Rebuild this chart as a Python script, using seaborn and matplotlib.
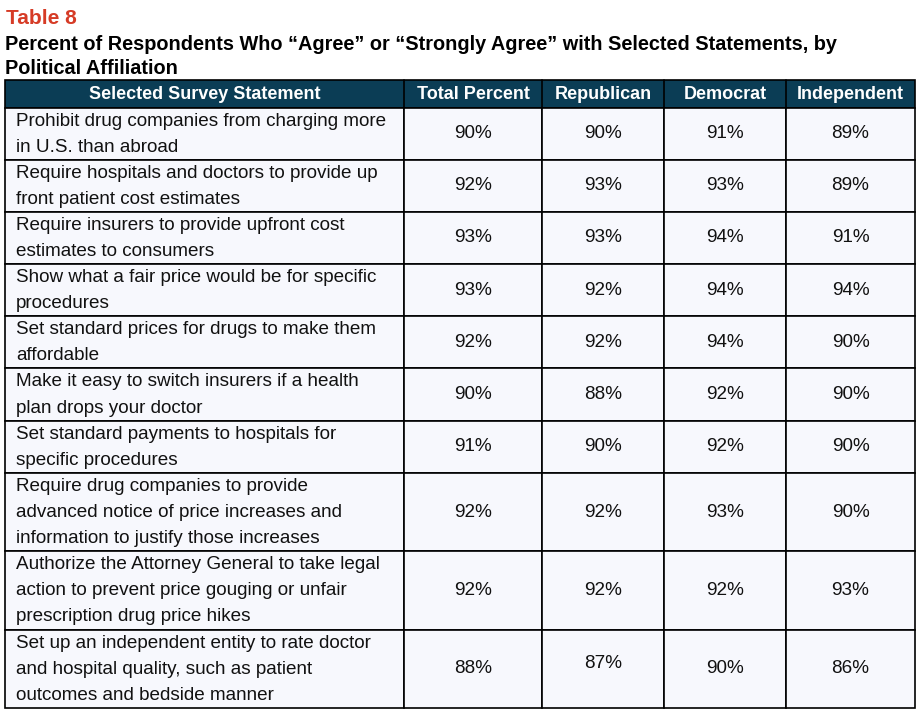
import matplotlib
matplotlib.use("Agg")
import matplotlib.pyplot as plt
from matplotlib.patches import Rectangle
import seaborn as sns

# ---------------- data ----------------
table_label = "Table 8"
title_lines = [
    "Percent of Respondents Who \u201cAgree\u201d or \u201cStrongly Agree\u201d with Selected Statements, by",
    "Political Affiliation",
]
columns = ["Selected Survey Statement", "Total Percent", "Republican", "Democrat", "Independent"]
statements = [
    ["Prohibit drug companies from charging more", "in U.S. than abroad"],
    ["Require hospitals and doctors to provide up", "front patient cost estimates"],
    ["Require insurers to provide upfront cost", "estimates to consumers"],
    ["Show what a fair price would be for specific", "procedures"],
    ["Set standard prices for drugs to make them", "affordable"],
    ["Make it easy to switch insurers if a health", "plan drops your doctor"],
    ["Set standard payments to hospitals for", "specific procedures"],
    ["Require drug companies to provide", "advanced notice of price increases and",
     "information to justify those increases"],
    ["Authorize the Attorney General to take legal", "action to prevent price gouging or unfair",
     "prescription drug price hikes"],
    ["Set up an independent entity to rate doctor", "and hospital quality, such as patient",
     "outcomes and bedside manner"],
]
total_pct = [90, 92, 93, 93, 92, 90, 91, 92, 92, 88]
republican = [90, 93, 93, 92, 92, 88, 90, 92, 92, 87]
democrat = [91, 93, 94, 94, 94, 92, 92, 93, 92, 90]
independent = [89, 89, 91, 94, 90, 90, 90, 90, 93, 86]

# ---------------- style ----------------
sns.set_theme(style="white")
FONT = ["Liberation Sans", "DejaVu Sans"]
plt.rcParams["font.family"] = FONT

HEADER_BG = "#0B3D55"
CELL_BG = "#F7F8FD"
RED = "#D63B26"

W, H = 922, 712
fig = plt.figure(figsize=(W / 100, H / 100), dpi=100)
ax = fig.add_axes([0, 0, 1, 1])
ax.set_xlim(0, W)
ax.set_ylim(H, 0)
ax.axis("off")

# layout (pixel-like axes units)
col_edges = [5, 404, 542, 664, 786, 915]
table_top = 80
header_h = 27.5
line_h = 26.1

# titles
ax.text(6, 18, table_label, color=RED, fontsize=15, fontweight="bold",
        va="center", ha="left")
for i, t in enumerate(title_lines):
    ax.text(5, 45 + 23 * i, t, color="black", fontsize=14.3, fontweight="bold",
            va="center", ha="left")

# header
ax.add_patch(Rectangle((col_edges[0], table_top), col_edges[-1] - col_edges[0], header_h,
                       facecolor=HEADER_BG, edgecolor="black", lw=1.2, zorder=1))
for j, name in enumerate(columns):
    cx = (col_edges[j] + col_edges[j + 1]) / 2
    ax.text(cx, table_top + header_h / 2 + 0.5, name, color="white", fontsize=13.0,
            fontweight="bold", ha="center", va="center", zorder=3)
    if 0 < j:
        ax.plot([col_edges[j], col_edges[j]], [table_top, table_top + header_h],
                color="black", lw=1.2, zorder=2)

# body
series = [total_pct, republican, democrat, independent]
nudge = {(9, 1): -5}
y = table_top + header_h
for i, lines in enumerate(statements):
    rh = len(lines) * line_h
    for j in range(len(columns)):
        x0, x1 = col_edges[j], col_edges[j + 1]
        ax.add_patch(Rectangle((x0, y), x1 - x0, rh, facecolor=CELL_BG,
                               edgecolor="black", lw=1.2, zorder=1))
    for k, ln in enumerate(lines):
        ax.text(16, y + 13.5 + line_h * k, ln, fontsize=13.6, color="#111111",
                ha="left", va="center", zorder=3)
    for j, s in enumerate(series):
        cx = (col_edges[j + 1] + col_edges[j + 2]) / 2
        ax.text(cx, y + rh / 2 + nudge.get((i, j), 0), f"{s[i]}%", fontsize=13.6,
                color="#111111", ha="center", va="center", zorder=3)
    y += rh

fig.savefig("out.png", dpi=100, facecolor="white")
